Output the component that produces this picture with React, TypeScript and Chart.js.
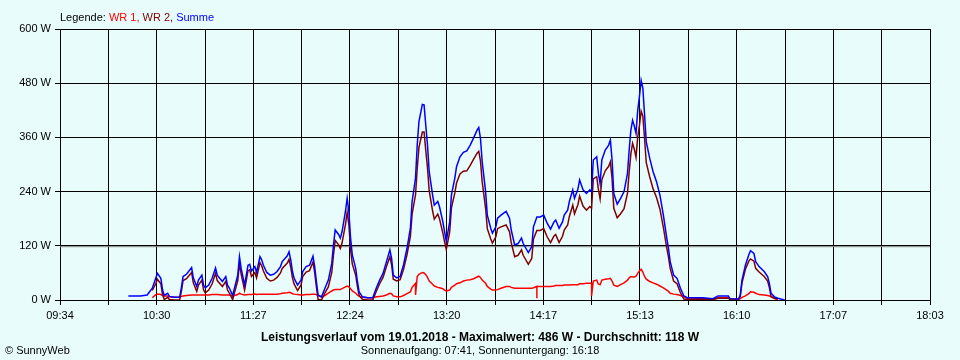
import { useEffect, useRef } from 'react';
import { Chart, registerables } from 'chart.js';

Chart.register(...registerables);

const FONT = '"Liberation Sans", Arial, sans-serif';
const BG = '#E8FCFC';

const axisStart = '09:34';
const axisEnd = '18:03';
const xTickLabels = ['09:34', '10:30', '11:27', '12:24', '13:20', '14:17', '15:13', '16:10', '17:07', '18:03'];
const yMax = 600;
const yStep = 120;

const datum = '19.01.2018';
const maximalwert = 486;
const durchschnitt = 118;
const sonnenaufgang = '07:41';
const sonnenuntergang = '16:18';

const times = [
  '10:14', '10:21', '10:25', '10:28', '10:30', '10:31', '10:33', '10:34', '10:35', '10:37',
  '10:38', '10:41', '10:44', '10:45', '10:46', '10:48', '10:51', '10:52', '10:54', '10:55',
  '10:57', '10:58', '10:59', '11:01', '11:03', '11:05', '11:06', '11:09', '11:11', '11:12',
  '11:13', '11:15', '11:18', '11:19', '11:20', '11:22', '11:24', '11:25', '11:26', '11:28',
  '11:29', '11:31', '11:32', '11:33', '11:35', '11:37', '11:39', '11:41', '11:43', '11:44',
  '11:47', '11:48', '11:49', '11:50', '11:51', '11:53', '11:55', '11:56', '11:58', '12:00',
  '12:02', '12:03', '12:04', '12:05', '12:07', '12:09', '12:11', '12:13', '12:14', '12:15',
  '12:17', '12:18', '12:19', '12:21', '12:22', '12:23', '12:24', '12:25', '12:27', '12:28',
  '12:29', '12:31', '12:34', '12:37', '12:39', '12:41', '12:43', '12:45', '12:47', '12:48',
  '12:49', '12:51', '12:53', '12:55', '12:57', '12:59', '13:00', '13:02', '13:02', '13:03',
  '13:04', '13:06', '13:07', '13:08', '13:09', '13:10', '13:12', '13:13', '13:15', '13:16',
  '13:18', '13:19', '13:20', '13:22', '13:23', '13:25', '13:26', '13:28', '13:30', '13:32',
  '13:34', '13:36', '13:38', '13:39', '13:40', '13:41', '13:43', '13:44', '13:46', '13:47',
  '13:49', '13:50', '13:52', '13:55', '13:57', '13:58', '14:00', '14:02', '14:04', '14:05',
  '14:08', '14:10', '14:11', '14:13', '14:13', '14:13', '14:15', '14:17', '14:19', '14:21',
  '14:23', '14:24', '14:26', '14:28', '14:29', '14:31', '14:32', '14:34', '14:35', '14:37',
  '14:38', '14:40', '14:42', '14:44', '14:45', '14:45', '14:46', '14:48', '14:49', '14:50',
  '14:51', '14:53', '14:55', '14:56', '14:57', '14:58', '15:00', '15:02', '15:04', '15:06',
  '15:07', '15:08', '15:09', '15:10', '15:11', '15:12', '15:13', '15:14', '15:15', '15:16',
  '15:17', '15:19', '15:21', '15:23', '15:25', '15:27', '15:29', '15:30', '15:31', '15:33',
  '15:35', '15:37', '15:39', '15:41', '15:50', '15:56', '15:59', '16:05', '16:06', '16:11',
  '16:12', '16:13', '16:15', '16:17', '16:18', '16:20', '16:21', '16:23', '16:26', '16:28',
  '16:29', '16:30', '16:32', '16:34', '16:38',
];

const summe = [
  9, 9, 11, 26, 48, 59, 48, 22, 10, 15,
  8, 6, 6, 27, 52, 57, 72, 49, 30, 44,
  55, 33, 27, 33, 48, 71, 55, 41, 52, 33,
  27, 10, 55, 96, 70, 33, 77, 79, 64, 74,
  61, 96, 89, 77, 61, 55, 57, 63, 74, 85,
  98, 107, 89, 63, 48, 33, 44, 63, 74, 77,
  97, 74, 41, 11, 7, 26, 44, 81, 122, 155,
  145, 137, 151, 196, 225, 196, 137, 100, 70, 41,
  18, 7, 5, 5, 26, 44, 59, 85, 111, 92,
  55, 49, 52, 78, 114, 159, 218, 270, 270, 343,
  395, 433, 432, 387, 343, 284, 232, 210, 218, 207,
  173, 151, 130, 173, 232, 270, 295, 317, 327, 330,
  343, 359, 376, 382, 358, 306, 240, 188, 159, 148,
  162, 181, 188, 196, 181, 155, 122, 125, 137, 125,
  105, 118, 162, 184, 184, 184, 184, 188, 170, 157,
  173, 177, 159, 173, 188, 199, 218, 244, 225, 245,
  266, 244, 236, 244, 240, 240, 310, 317, 280, 258,
  310, 332, 343, 354, 310, 236, 212, 225, 240, 280,
  332, 376, 398, 385, 369, 420, 450, 486, 469, 410,
  350, 314, 284, 262, 232, 188, 137, 114, 85, 55,
  48, 26, 9, 5, 5, 3, 9, 9, 3, 2,
  11, 44, 77, 100, 109, 103, 85, 74, 63, 52,
  37, 15, 7, 4, 0,
];

const wr1 = [
  null, null, null, 5, 12, 13, 12, 10, 9, 9,
  7, 6, 6, 8, 9, 10, 11, 11, 11, 11,
  11, 11, 11, 11, 12, 12, 12, 11, 11, 11,
  11, 9, 12, 15, 13, 11, 12, 12, 12, 13,
  12, 13, 13, 13, 13, 13, 13, 13, 14, 15,
  16, 17, 16, 14, 13, 12, 11, 11, 12, 12,
  13, 13, 12, 10, 7, 10, 15, 20, 22, 23,
  23, 23, 25, 29, 31, 29, 25, 20, 15, 11,
  8, 6, 5, 5, 7, 8, 9, 11, 15, 14,
  9, 7, 7, 10, 14, 18, 28, 37, 11, 52,
  57, 61, 60, 56, 50, 42, 35, 31, 28, 27,
  25, 22, 20, 22, 28, 33, 36, 38, 42, 44,
  45, 47, 51, 53, 50, 44, 37, 30, 24, 22,
  22, 23, 26, 30, 30, 28, 26, 26, 26, 26,
  26, 26, 27, 30, 4, 30, 30, 30, 30, 30,
  31, 32, 32, 32, 33, 33, 33, 34, 34, 34,
  36, 36, 37, 37, 37, 9, 42, 44, 35, 34,
  44, 46, 47, 48, 42, 33, 30, 34, 38, 44,
  49, 52, 51, 51, 53, 59, 64, 68, 62, 52,
  46, 41, 38, 35, 31, 27, 22, 19, 15, 13,
  12, 10, 7, 4, 3, 2, 5, 5, 2, 1,
  3, 6, 9, 14, 18, 17, 15, 12, 11, 10,
  9, 7, 3, 1, null,
];

const wr2 = [
  null, null, null, 21, 36, 46, 36, 12, 1, 6,
  1, 0, 0, 19, 43, 47, 61, 38, 19, 33,
  44, 22, 16, 22, 36, 59, 43, 30, 41, 22,
  16, 1, 43, 81, 57, 22, 65, 67, 52, 61,
  49, 83, 76, 64, 48, 42, 44, 50, 60, 70,
  82, 90, 73, 49, 35, 21, 33, 52, 62, 65,
  84, 61, 29, 1, 0, 16, 29, 61, 100, 132,
  122, 114, 126, 167, 194, 167, 112, 80, 55, 30,
  10, 1, 0, 0, 19, 36, 50, 74, 96, 78,
  46, 42, 45, 68, 100, 141, 190, 233, 233, 291,
  338, 372, 372, 331, 293, 242, 197, 179, 190, 180,
  148, 129, 112, 151, 204, 237, 259, 279, 285, 286,
  298, 312, 325, 329, 308, 262, 203, 158, 135, 126,
  140, 158, 162, 166, 151, 127, 96, 99, 111, 99,
  79, 92, 135, 154, 154, 154, 154, 158, 140, 127,
  142, 145, 127, 141, 155, 166, 185, 210, 191, 211,
  230, 208, 199, 207, 203, 203, 268, 273, 245, 224,
  266, 286, 296, 306, 268, 203, 182, 191, 202, 236,
  283, 324, 347, 334, 316, 361, 386, 418, 407, 358,
  304, 273, 246, 227, 201, 161, 115, 95, 70, 42,
  36, 16, 2, 1, 2, 1, 4, 4, 1, 1,
  8, 38, 68, 86, 91, 86, 70, 62, 52, 42,
  28, 8, 4, 3, null,
];

const legendParts = [
  { text: 'Legende: ', color: '#000000' },
  { text: 'WR 1, ', color: '#FF0000' },
  { text: 'WR 2, ', color: '#800000' },
  { text: 'Summe', color: '#0000FF' },
];

const toMin = (s: string) => {
  const [h, m] = s.split(':').map(Number);
  return h * 60 + m;
};

export default function App() {
  const ref = useRef<HTMLCanvasElement>(null);

  useEffect(() => {
    if (!ref.current) return;
    const xMin = toMin(axisStart);
    const xMax = toMin(axisEnd);
    const xs = times.map(toMin);
    const mk = (arr: (number | null)[]) => arr.map((v, i) => ({ x: xs[i], y: v }));
    const nGrid = (xTickLabels.length - 1) * 2;

    const textPlugin = {
      id: 'sunnyTexts',
      afterDraw(chart: any) {
        const ctx = chart.ctx as CanvasRenderingContext2D;
        ctx.save();
        ctx.textBaseline = 'alphabetic';
        ctx.textAlign = 'left';
        ctx.font = `11px ${FONT}`;
        let x = chart.chartArea.left;
        for (const p of legendParts) {
          ctx.fillStyle = p.color;
          ctx.fillText(p.text, x, 21);
          x += ctx.measureText(p.text).width;
        }
        ctx.fillStyle = '#000000';
        ctx.textAlign = 'center';
        ctx.font = `bold 12px ${FONT}`;
        ctx.fillText(
          `Leistungsverlauf vom ${datum} - Maximalwert: ${maximalwert} W - Durchschnitt: ${durchschnitt} W`,
          480,
          341
        );
        ctx.font = `11px ${FONT}`;
        ctx.fillText(`Sonnenaufgang: ${sonnenaufgang}, Sonnenuntergang: ${sonnenuntergang}`, 480, 354);
        ctx.textAlign = 'left';
        ctx.fillText('\u00A9 SunnyWeb', 5, 354);
        ctx.restore();
      },
    };

    const line = (color: string, width = 1.5) => ({
      borderColor: color,
      backgroundColor: color,
      borderWidth: width,
      pointRadius: 0,
      pointHoverRadius: 0,
      tension: 0,
      fill: false,
      spanGaps: false,
    });

    const chart = new Chart(ref.current, {
      type: 'line',
      data: {
        datasets: [
          { label: 'Summe', data: mk(summe), ...line('#0000FF') },
          { label: 'WR 2', data: mk(wr2), ...line('#800000') },
          { label: 'WR 1', data: mk(wr1), ...line('#FF0000') },
          {
            label: 'Durchschnitt',
            data: [
              { x: xMin, y: durchschnitt },
              { x: xMax, y: durchschnitt },
            ],
            ...line('#808080', 1),
          },
        ],
      } as any,
      options: {
        responsive: false,
        animation: false,
        events: [],
        layout: { padding: { top: 29, right: 30, left: 0, bottom: 0 } },
        plugins: {
          legend: { display: false },
          tooltip: { enabled: false },
          title: { display: false },
        },
        scales: {
          x: {
            type: 'linear',
            min: xMin,
            max: xMax,
            afterBuildTicks: (scale: any) => {
              const t = [];
              for (let i = 0; i <= nGrid; i++) t.push({ value: xMin + ((xMax - xMin) * i) / nGrid });
              scale.ticks = t;
            },
            afterFit: (scale: any) => {
              scale.height = 60;
            },
            ticks: {
              autoSkip: false,
              maxRotation: 0,
              minRotation: 0,
              padding: 4,
              color: '#000000',
              font: { family: FONT, size: 11 },
              callback: (_v: any, i: number) => (i % 2 === 0 ? xTickLabels[i / 2] : ''),
            },
            grid: { color: '#000000', lineWidth: 1, tickLength: 5, drawTicks: true },
            border: { color: '#000000', width: 1 },
          },
          y: {
            type: 'linear',
            min: 0,
            max: yMax,
            afterFit: (scale: any) => {
              scale.width = 60;
            },
            ticks: {
              stepSize: yStep,
              padding: 4,
              color: '#000000',
              font: { family: FONT, size: 11 },
              callback: (v: any) => `${v} W`,
            },
            grid: { color: '#000000', lineWidth: 1, tickLength: 5, drawTicks: true },
            border: { color: '#000000', width: 1 },
          },
        },
      } as any,
      plugins: [textPlugin],
    });

    return () => chart.destroy();
  }, []);

  return (
    <div style={{ position: 'fixed', left: 0, top: 0, width: 960, height: 360, background: BG }}>
      <canvas ref={ref} width={960} height={360} style={{ display: 'block' }} />
    </div>
  );
}
